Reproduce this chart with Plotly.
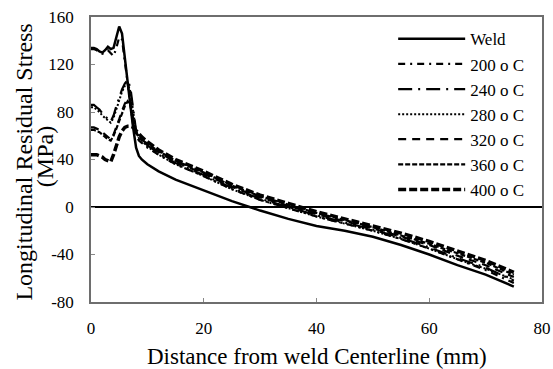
import plotly.graph_objects as go

# ---- data ----
distance = [0, 0.5, 1, 1.5, 2, 2.5, 3, 3.5, 4, 4.5, 5, 5.5, 6, 6.5, 7, 7.5, 8, 8.5, 9,
            10, 12, 15, 20, 25, 30, 35, 40, 45, 50, 55, 60, 65, 70, 75]

weld = [134, 134, 133, 131, 130, 132, 135, 133, 134, 142, 152, 146, 124, 104, 85, 66, 50, 43, 40,
        36, 30, 23, 14, 5, -3, -10, -16, -20, -25, -32, -40, -49, -57, -67]
t200 = [133, 133, 132, 130, 129, 130, 132, 129, 127, 134, 143, 141, 123, 102, 84, 68, 60, 56, 54,
        50, 44, 36, 26, 15, 6, -1, -8, -14, -20, -27, -35, -44, -53, -64]
t240 = [86, 86, 84, 82, 79, 76, 74, 72, 77, 85, 93, 99, 104, 107, 100, 80, 64, 58, 56,
        52, 45, 37, 27, 16, 7, 0, -7, -13, -19, -26, -34, -43, -51, -62]
t280 = [84, 84, 82, 80, 77, 75, 73, 71, 75, 83, 91, 97, 102, 104, 97, 78, 63, 58, 56,
        51, 44, 36, 26, 15, 6, -1, -8, -14, -20, -27, -35, -44, -52, -61]
t320 = [67, 67, 66, 65, 63, 61, 59, 57, 61, 67, 74, 81, 87, 91, 88, 74, 63, 59, 57,
        53, 46, 38, 28, 17, 8, 1, -6, -12, -18, -25, -32, -41, -49, -59]
t360 = [65, 65, 64, 63, 61, 59, 57, 56, 60, 66, 72, 79, 85, 89, 86, 73, 63, 59, 57,
        53, 47, 39, 29, 18, 9, 2, -5, -11, -17, -24, -31, -39, -47, -57]
t400 = [44, 44, 44, 43, 42, 40, 39, 38, 44, 52, 59, 64, 67, 68, 68, 67, 64, 61, 59,
        55, 48, 40, 30, 19, 10, 3, -4, -10, -16, -22, -29, -37, -45, -55]

series_names = ["Weld", "200 o C", "240 o C", "280 o C", "320 o C", "360 o C", "400 o C"]
series_values = [weld, t200, t240, t280, t320, t360, t400]

x_ticks = [0, 20, 40, 60, 80]
y_ticks = [-80, -40, 0, 40, 80, 120, 160]
y_tick_labels = ["-80", "-40", "0", "40", "80", "120", "160"]

# ---- styles ----
dashes = ["solid", "7px,5px,2px,5px", "14px,6px,2px,6px", "2px,2px", "8px,6px", "5px,2px", "8px,3px"]
widths = [2.5, 2.2, 2.2, 2.0, 2.2, 2.2, 3.5]

FONT = "Liberation Serif"

fig = go.Figure()
for name, vals, dash, w in zip(series_names, series_values, dashes, widths):
    fig.add_trace(go.Scatter(
        x=distance, y=vals, mode="lines", name=name,
        line=dict(color="black", width=w, dash=dash),
    ))

fig.update_layout(
    width=553, height=369,
    margin=dict(l=91, r=11, t=17, b=67, autoexpand=False),
    paper_bgcolor="white", plot_bgcolor="white",
    font=dict(family=FONT, color="black", size=17),
    showlegend=True,
    legend=dict(
        x=0.67, y=0.985, xanchor="left", yanchor="top",
        bgcolor="rgba(0,0,0,0)", borderwidth=0,
        font=dict(family=FONT, size=17, color="black"),
        itemwidth=67,
        tracegroupgap=0,
    ),
)

fig.update_xaxes(
    range=[0, 80], tickvals=x_ticks, showgrid=False, zeroline=False,
    showline=True, linecolor="#6e6e6e", linewidth=1.5, mirror=True,
    ticks="inside", ticklen=4, tickcolor="#888888", tickwidth=1,
    ticklabelstandoff=10,
    tickfont=dict(family=FONT, size=17, color="black"),
)
fig.update_yaxes(
    range=[-80, 160], tickvals=y_ticks, ticktext=y_tick_labels, showgrid=False,
    zeroline=True, zerolinecolor="black", zerolinewidth=2,
    showline=True, linecolor="#6e6e6e", linewidth=1.5, mirror=True,
    ticks="inside", ticklen=4, tickcolor="#888888", tickwidth=1,
    ticklabelstandoff=12,
    tickfont=dict(family=FONT, size=17, color="black"),
)

# axis titles
fig.add_annotation(
    text="Distance from weld Centerline (mm)", xref="paper", yref="paper",
    x=0.5, y=-0.19, xanchor="center", yanchor="middle", showarrow=False,
    font=dict(family=FONT, size=23, color="black"),
)
fig.add_annotation(
    text="Longitudinal Residual Stress", xref="paper", yref="paper",
    x=-0.148, y=0.49, xanchor="center", yanchor="middle", showarrow=False, textangle=-90,
    font=dict(family=FONT, size=24, color="black"),
)
fig.add_annotation(
    text="(MPa)", xref="paper", yref="paper",
    x=-0.103, y=0.51, xanchor="center", yanchor="middle", showarrow=False, textangle=-90,
    font=dict(family=FONT, size=24, color="black"),
)

fig.write_html(
    "out.html",
    config={"displayModeBar": False},
    post_script="document.body.style.margin='0';document.body.style.overflow='hidden';",
)
